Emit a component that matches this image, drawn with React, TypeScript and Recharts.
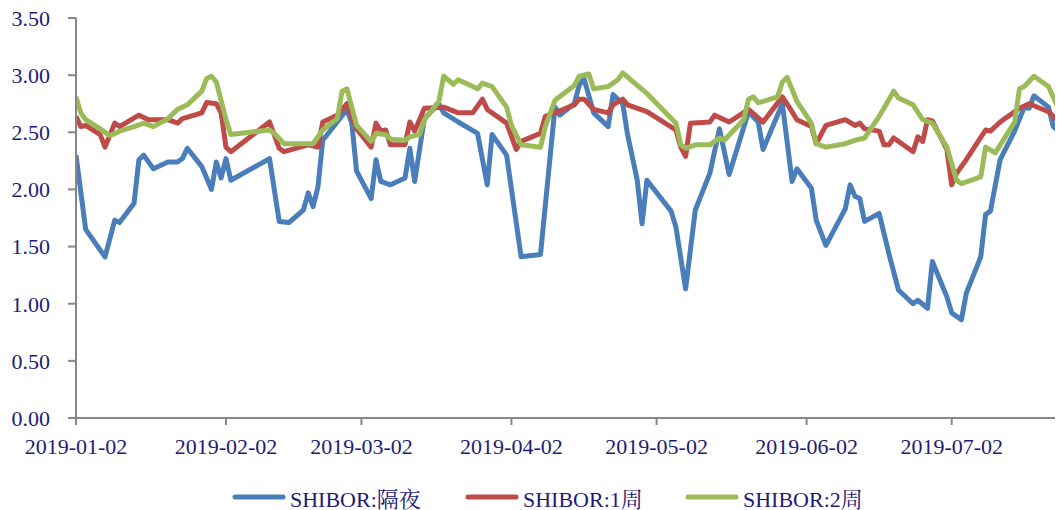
import React from "react";
import { LineChart, Line, XAxis, YAxis } from "recharts";

const TEXT = "#1E1B78";
const AXIS = "#878787";
const FONT = '"Liberation Serif", "Times New Roman", "Noto Serif CJK SC", "Noto Sans CJK SC", serif';
const COLORS = ["#4A7EBB", "#BE4B48", "#9BBB59"];
const NAMES = ["SHIBOR:隔夜", "SHIBOR:1周", "SHIBOR:2周"];

const tickLabels = ["2019-01-02", "2019-02-02", "2019-03-02", "2019-04-02", "2019-05-02", "2019-06-02", "2019-07-02"];
const yTicks = [0, 0.5, 1, 1.5, 2, 2.5, 3, 3.5];

// 隔夜
const onDates = [
  "2019-01-02","2019-01-04","2019-01-08","2019-01-10","2019-01-11","2019-01-14","2019-01-15","2019-01-16","2019-01-18","2019-01-21",
  "2019-01-23","2019-01-24","2019-01-25","2019-01-28","2019-01-30","2019-01-31","2019-02-01","2019-02-02","2019-02-03","2019-02-11",
  "2019-02-13","2019-02-15","2019-02-18","2019-02-19","2019-02-20","2019-02-21","2019-02-22","2019-02-25","2019-02-27","2019-02-28",
  "2019-03-01","2019-03-04","2019-03-05","2019-03-06","2019-03-08","2019-03-11","2019-03-12","2019-03-13","2019-03-15","2019-03-18",
  "2019-03-19","2019-03-22","2019-03-26","2019-03-28","2019-03-29","2019-04-01","2019-04-04","2019-04-08","2019-04-11","2019-04-12",
  "2019-04-15","2019-04-16","2019-04-17","2019-04-19","2019-04-22","2019-04-23","2019-04-25","2019-04-26","2019-04-28","2019-04-29",
  "2019-04-30","2019-05-05","2019-05-06","2019-05-08","2019-05-10","2019-05-13","2019-05-15","2019-05-17","2019-05-21","2019-05-23",
  "2019-05-24","2019-05-28","2019-05-30","2019-05-31","2019-06-03","2019-06-04","2019-06-06","2019-06-10","2019-06-11","2019-06-12",
  "2019-06-13","2019-06-14","2019-06-17","2019-06-19","2019-06-21","2019-06-24","2019-06-25","2019-06-27","2019-06-28","2019-07-01",
  "2019-07-02","2019-07-04","2019-07-05","2019-07-08","2019-07-09","2019-07-10","2019-07-12","2019-07-15","2019-07-17","2019-07-18",
  "2019-07-19","2019-07-22","2019-07-23","2019-07-25",
];
const onValues = [
  2.30,1.65,1.41,1.73,1.71,1.88,2.26,2.30,2.18,2.24,
  2.24,2.27,2.36,2.20,2.00,2.24,2.10,2.27,2.08,2.27,
  1.72,1.71,1.82,1.97,1.85,2.02,2.43,2.59,2.70,2.58,
  2.16,1.92,2.26,2.07,2.04,2.10,2.36,2.07,2.62,2.75,
  2.67,2.59,2.49,2.04,2.48,2.30,1.41,1.43,2.72,2.65,
  2.75,2.91,2.97,2.67,2.55,2.83,2.75,2.48,2.08,1.70,
  2.08,1.81,1.67,1.13,1.82,2.14,2.53,2.13,2.68,2.59,
  2.35,2.75,2.07,2.18,2.01,1.73,1.51,1.83,2.04,1.94,
  1.92,1.72,1.79,1.44,1.12,1.00,1.03,0.96,1.37,1.06,
  0.92,0.86,1.09,1.41,1.78,1.81,2.26,2.51,2.72,2.71,
  2.82,2.72,2.55,2.48,
];

// 1周
const w1Dates = [
  "2019-01-02","2019-01-03","2019-01-04","2019-01-07","2019-01-08","2019-01-10","2019-01-11","2019-01-15","2019-01-17","2019-01-21",
  "2019-01-23","2019-01-24","2019-01-28","2019-01-29","2019-01-31","2019-02-01","2019-02-02","2019-02-03","2019-02-11","2019-02-13",
  "2019-02-14","2019-02-19","2019-02-21","2019-02-22","2019-02-25","2019-02-27","2019-03-01","2019-03-04","2019-03-05","2019-03-06",
  "2019-03-07","2019-03-08","2019-03-11","2019-03-12","2019-03-13","2019-03-15","2019-03-19","2019-03-22","2019-03-25","2019-03-27",
  "2019-03-28","2019-04-01","2019-04-03","2019-04-04","2019-04-08","2019-04-09","2019-04-11","2019-04-15","2019-04-16","2019-04-17",
  "2019-04-19","2019-04-22","2019-04-23","2019-04-25","2019-04-26","2019-04-30","2019-05-06","2019-05-07","2019-05-08","2019-05-09",
  "2019-05-13","2019-05-14","2019-05-17","2019-05-21","2019-05-24","2019-05-28","2019-05-30","2019-05-31","2019-06-03","2019-06-04",
  "2019-06-06","2019-06-10","2019-06-12","2019-06-13","2019-06-14","2019-06-17","2019-06-18","2019-06-19","2019-06-20","2019-06-24",
  "2019-06-25","2019-06-26","2019-06-27","2019-06-28","2019-07-01","2019-07-02","2019-07-03","2019-07-05","2019-07-09","2019-07-10",
  "2019-07-12","2019-07-16","2019-07-18","2019-07-22","2019-07-25",
];
const w1Values = [
  2.64,2.55,2.56,2.48,2.37,2.58,2.55,2.65,2.61,2.61,
  2.58,2.62,2.67,2.76,2.75,2.67,2.37,2.33,2.59,2.36,
  2.33,2.39,2.37,2.59,2.65,2.75,2.53,2.37,2.58,2.51,
  2.52,2.39,2.39,2.59,2.51,2.71,2.72,2.67,2.67,2.79,
  2.70,2.58,2.35,2.42,2.49,2.64,2.67,2.74,2.79,2.79,
  2.70,2.67,2.74,2.79,2.74,2.68,2.52,2.37,2.29,2.58,
  2.59,2.65,2.59,2.70,2.59,2.81,2.68,2.61,2.55,2.40,
  2.56,2.61,2.56,2.58,2.53,2.51,2.39,2.39,2.45,2.33,
  2.46,2.42,2.61,2.60,2.35,2.04,2.14,2.26,2.52,2.51,
  2.59,2.71,2.75,2.68,2.56,
];

// 2周
const w2Dates = [
  "2019-01-02","2019-01-03","2019-01-04","2019-01-07","2019-01-09","2019-01-11","2019-01-14","2019-01-16","2019-01-18","2019-01-21",
  "2019-01-23","2019-01-25","2019-01-28","2019-01-29","2019-01-30","2019-01-31","2019-02-02","2019-02-03","2019-02-11","2019-02-12",
  "2019-02-14","2019-02-20","2019-02-22","2019-02-25","2019-02-26","2019-02-27","2019-03-01","2019-03-04","2019-03-05","2019-03-07",
  "2019-03-08","2019-03-11","2019-03-12","2019-03-14","2019-03-15","2019-03-18","2019-03-19","2019-03-21","2019-03-22","2019-03-26",
  "2019-03-27","2019-03-29","2019-04-01","2019-04-02","2019-04-04","2019-04-08","2019-04-09","2019-04-11","2019-04-15","2019-04-16",
  "2019-04-18","2019-04-19","2019-04-22","2019-04-24","2019-04-25","2019-04-28","2019-04-30","2019-05-06","2019-05-07","2019-05-08",
  "2019-05-10","2019-05-13","2019-05-15","2019-05-16","2019-05-20","2019-05-21","2019-05-22","2019-05-23","2019-05-24","2019-05-27",
  "2019-05-28","2019-05-29","2019-05-31","2019-06-03","2019-06-04","2019-06-06","2019-06-10","2019-06-12","2019-06-14","2019-06-17",
  "2019-06-18","2019-06-20","2019-06-21","2019-06-24","2019-06-26","2019-06-28","2019-07-01","2019-07-03","2019-07-04","2019-07-08",
  "2019-07-09","2019-07-11","2019-07-15","2019-07-16","2019-07-17","2019-07-19","2019-07-22","2019-07-25",
];
const w2Values = [
  2.81,2.67,2.61,2.53,2.47,2.51,2.55,2.58,2.55,2.62,
  2.70,2.74,2.86,2.97,2.99,2.94,2.61,2.48,2.52,2.49,
  2.40,2.40,2.52,2.62,2.86,2.88,2.56,2.42,2.49,2.48,
  2.44,2.43,2.46,2.48,2.61,2.77,2.99,2.92,2.96,2.88,
  2.93,2.90,2.72,2.56,2.39,2.37,2.55,2.78,2.91,2.99,
  3.01,2.88,2.90,2.96,3.02,2.91,2.84,2.58,2.39,2.36,
  2.39,2.39,2.45,2.43,2.61,2.79,2.81,2.76,2.77,2.81,
  2.94,2.98,2.77,2.58,2.40,2.37,2.40,2.43,2.45,2.64,
  2.71,2.86,2.80,2.74,2.61,2.58,2.37,2.08,2.05,2.11,
  2.37,2.32,2.59,2.88,2.90,2.99,2.90,2.62,
];

const BASE = Date.UTC(2019, 0, 2);
const toDay = (s: string) => Math.round((Date.parse(s) - BASE) / 86400000);
const toRows = (dates: string[], vals: number[]) => dates.map((d, i) => ({ t: toDay(d), v: vals[i] }));

const series = [
  toRows(onDates, onValues),
  toRows(w1Dates, w1Values),
  toRows(w2Dates, w2Values),
];
const tickDays = tickLabels.map(toDay);

const tickStyle = { fill: TEXT, fontSize: 22, fontFamily: FONT };
const legendWidths = [233, 220, undefined];

function LegendRow() {
  return (
    <div
      style={{
        position: "absolute",
        left: 224,
        top: 477,
        height: 24,
        display: "flex",
        alignItems: "center",
        fontFamily: FONT,
        fontSize: 22,
        color: TEXT,
        whiteSpace: "nowrap",
      }}
    >
      {NAMES.map((n, i) => (
        <div key={n} style={{ display: "flex", alignItems: "center", width: legendWidths[i] }}>
          <svg width={54} height={8} style={{ marginRight: 4 }}>
            <line x1={3} y1={4} x2={51} y2={4} stroke={COLORS[i]} strokeWidth={5} strokeLinecap="round" />
          </svg>
          <span>{n}</span>
        </div>
      ))}
    </div>
  );
}

export default function App() {
  return (
    <div style={{ position: "relative", width: 1055, height: 502 }}>
      <style>{".recharts-surface{overflow:visible}"}</style>
      <LineChart width={1055} height={470} margin={{ top: 10, right: 0, left: 0, bottom: 0 }}>
        <XAxis
          type="number"
          dataKey="t"
          domain={[0, 204]}
          ticks={tickDays}
          tickFormatter={(d) => tickLabels[tickDays.indexOf(d)] ?? ""}
          height={60}
          tick={tickStyle}
          tickSize={7}
          tickMargin={13}
          interval={0}
          allowDataOverflow
          axisLine={{ stroke: AXIS, strokeWidth: 2 }}
          tickLine={{ stroke: AXIS, strokeWidth: 2 }}
        />
        <YAxis
          type="number"
          domain={[0, 3.5]}
          ticks={yTicks}
          tickFormatter={(v) => Number(v).toFixed(2)}
          width={68}
          tick={tickStyle}
          tickSize={8}
          tickMargin={18}
          interval={0}
          axisLine={{ stroke: AXIS, strokeWidth: 2 }}
          tickLine={{ stroke: AXIS, strokeWidth: 2 }}
        />
        {series.map((rows, i) => (
          <Line
            key={NAMES[i]}
            data={rows}
            dataKey="v"
            name={NAMES[i]}
            type="linear"
            stroke={COLORS[i]}
            strokeWidth={5}
            strokeLinejoin="round"
            dot={false}
            activeDot={false}
            isAnimationActive={false}
          />
        ))}
      </LineChart>
      <LegendRow />
    </div>
  );
}
